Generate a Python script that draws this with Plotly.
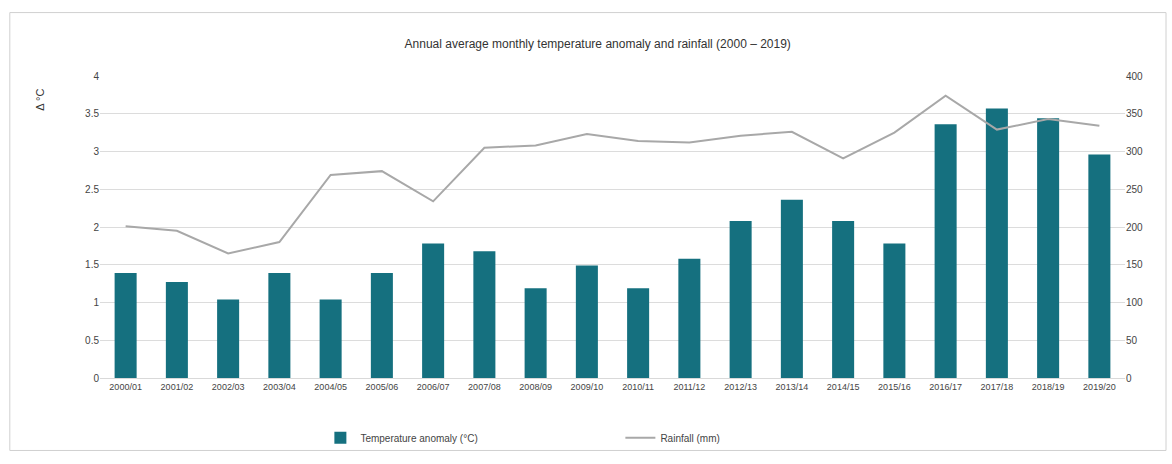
import plotly.graph_objects as go

# Seasons on the category axis
seasons = ["2000/01", "2001/02", "2002/03", "2003/04", "2004/05", "2005/06",
           "2006/07", "2007/08", "2008/09", "2009/10", "2010/11", "2011/12",
           "2012/13", "2013/14", "2014/15", "2015/16", "2016/17", "2017/18",
           "2018/19", "2019/20"]

# Temperature anomaly (left axis, °C)
anomaly = [1.39, 1.27, 1.04, 1.39, 1.04, 1.39, 1.78, 1.68, 1.19, 1.49,
           1.19, 1.58, 2.08, 2.36, 2.08, 1.78, 3.36, 3.57, 3.44, 2.96]

# Rainfall (right axis, mm)
rainfall = [201, 195, 165, 180, 269, 274, 234, 305, 308, 323,
            314, 312, 321, 326, 291, 325, 374, 329, 343, 334]

left_ticks = [0, 0.5, 1, 1.5, 2, 2.5, 3, 3.5, 4]
right_ticks = [0, 50, 100, 150, 200, 250, 300, 350, 400]

fig = go.Figure()
fig.add_trace(go.Bar(
    x=seasons, y=anomaly, name="Temperature anomaly (°C)",
    marker=dict(color="#15707f", line=dict(width=0)),
    yaxis="y",
))
fig.add_trace(go.Scatter(
    x=seasons, y=rainfall, name="Rainfall (mm)", mode="lines",
    line=dict(color="#a8a8a8", width=2),
    yaxis="y2",
))

fig.update_layout(
    width=1172, height=464,
    paper_bgcolor="white", plot_bgcolor="white",
    margin=dict(l=100, r=47, t=76, b=81),
    title=dict(text="Annual average monthly temperature anomaly and rainfall (2000 – 2019)",
               x=0.51, xanchor="center", y=0.905, yanchor="middle",
               font=dict(family="Liberation Sans", size=12, color="#333333")),
    font=dict(family="Liberation Sans", size=10, color="#444444"),
    bargap=0.57,
    showlegend=True,
    legend=dict(orientation="h", x=0.215, xanchor="left", y=-0.15, yanchor="top",
                font=dict(size=10, color="#444444"),
                bgcolor="rgba(0,0,0,0)",
                entrywidth=255, entrywidthmode="pixels",
                traceorder="normal"),
    xaxis=dict(showgrid=False, showline=True, linecolor="#d9d9d9",
               ticks="", tickfont=dict(size=9), tickangle=0),
    yaxis=dict(range=[0, 4], tickvals=left_ticks, showgrid=True,
               gridcolor="#dcdcdc", zeroline=False, ticks="",
               tickfont=dict(size=10)),
    yaxis2=dict(range=[0, 400], tickvals=right_ticks, overlaying="y",
                side="right", showgrid=False, zeroline=False, ticks="",
                tickfont=dict(size=10)),
    annotations=[dict(text="Δ °C", xref="paper", yref="paper",
                      x=-0.058, y=0.92, xanchor="center", yanchor="middle",
                      textangle=-90, showarrow=False,
                      font=dict(size=11, color="#333333"))],
    shapes=[dict(type="rect", xref="paper", yref="paper",
                 x0=-0.088, x1=1.04, y0=-0.24, y1=1.21,
                 line=dict(color="#d0d0d0", width=1))],
)

fig.write_html("out.html")
